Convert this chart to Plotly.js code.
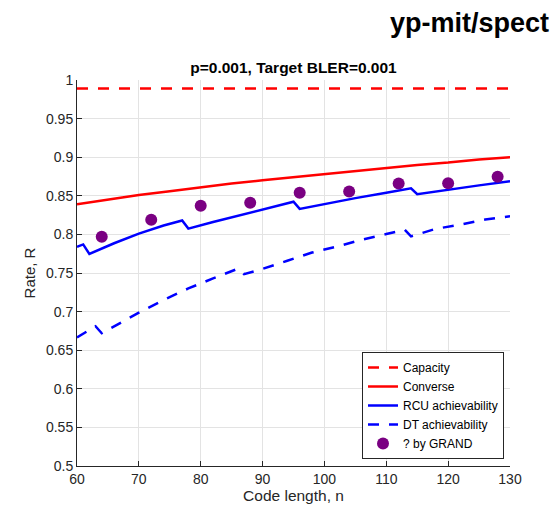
<!DOCTYPE html>
<html>
<head>
<meta charset="utf-8">
<script src="https://cdn.plot.ly/plotly-3.0.1.min.js"></script>
<style>html,body{margin:0;padding:0;background:#fff;}#chart{width:553px;height:508px;}</style>
</head>
<body>
<div id="chart"></div>
<script>
// Capacity
const capN = [60, 130];
const capR = [0.989, 0.989];
// Converse
const convN = [60, 65, 70, 75, 80, 85, 90, 95, 100, 105, 110, 115, 120, 125, 130];
const convR = [0.839, 0.845, 0.851, 0.856, 0.861, 0.866, 0.870, 0.874, 0.878, 0.882, 0.886, 0.890, 0.893, 0.897, 0.900];
// RCU achievability
const rcuN = [60, 61, 62, 66, 70, 74, 77, 78, 82, 86, 90, 95, 96, 100, 105, 110, 114, 115, 120, 125, 130];
const rcuR = [0.784, 0.787, 0.7746, 0.7885, 0.801, 0.8115, 0.818, 0.8075, 0.816, 0.824, 0.832, 0.8424, 0.833, 0.8395, 0.847, 0.854, 0.8597, 0.852, 0.858, 0.8635, 0.869];
// DT achievability
const dtN = [60, 63, 64, 66, 70, 74, 78, 82, 86, 87, 90, 94, 98, 102, 106, 110, 113, 114, 118, 122, 126, 130];
const dtR = [0.6665, 0.681, 0.672, 0.681, 0.6986, 0.715, 0.730, 0.743, 0.7555, 0.7485, 0.7553, 0.7658, 0.7765, 0.7842, 0.793, 0.8004, 0.806, 0.7975, 0.8072, 0.8127, 0.8193, 0.8235];
// GRAND
const grandN = [64, 72, 80, 88, 96, 104, 112, 120, 128];
const grandR = [0.797, 0.819, 0.837, 0.8409, 0.854, 0.8555, 0.866, 0.8664, 0.8748];

const yTicks = [0.5, 0.55, 0.6, 0.65, 0.7, 0.75, 0.8, 0.85, 0.9, 0.95, 1];
const yTickText = ['0.5', '0.55', '0.6', '0.65', '0.7', '0.75', '0.8', '0.85', '0.9', '0.95', '1'];
const xTicks = [60, 70, 80, 90, 100, 110, 120, 130];

const FONT = 'Liberation Sans, Arial, Helvetica, sans-serif';

const traces = [
  {x: capN, y: capR, mode: 'lines', name: 'Capacity', line: {color: '#ff0000', width: 2.5, dash: '11px,10px'}},
  {x: convN, y: convR, mode: 'lines', name: 'Converse', line: {color: '#ff0000', width: 2.5}},
  {x: rcuN, y: rcuR, mode: 'lines', name: 'RCU achievability', line: {color: '#0000ff', width: 2.5}},
  {x: dtN, y: dtR, mode: 'lines', name: 'DT achievability', line: {color: '#0000ff', width: 2.5, dash: '11px,10px'}},
  {x: grandN, y: grandR, mode: 'markers', name: '? by GRAND', marker: {color: '#7a0082', size: 12}}
];

const layout = {
  width: 553, height: 508,
  margin: {l: 77, r: 43, t: 80, b: 42},
  paper_bgcolor: '#ffffff', plot_bgcolor: '#ffffff',
  font: {family: FONT, color: '#262626', size: 14},
  title: {
    text: '<b>p=0.001, Target BLER=0.001</b>',
    font: {family: FONT, size: 15.5, color: '#000000'},
    x: 293.5 / 553, xref: 'container', xanchor: 'center',
    y: 1 - 68 / 508, yref: 'container', yanchor: 'middle'
  },
  xaxis: {
    range: [60, 130], tickvals: xTicks, ticktext: xTicks.map(String),
    showgrid: true, gridcolor: '#e3e3e3', gridwidth: 1,
    zeroline: false, showline: true, linecolor: '#262626', linewidth: 1,
    ticks: 'inside', ticklen: 5, tickcolor: '#262626',
    tickfont: {family: FONT, size: 14, color: '#262626'},
    title: {text: 'Code length, n', font: {family: FONT, size: 15.5, color: '#262626'}, standoff: 2}
  },
  yaxis: {
    range: [0.5, 1], tickvals: yTicks, ticktext: yTickText,
    showgrid: true, gridcolor: '#e3e3e3', gridwidth: 1,
    zeroline: false, showline: true, linecolor: '#262626', linewidth: 1,
    ticks: 'inside', ticklen: 5, tickcolor: '#262626',
    tickfont: {family: FONT, size: 14, color: '#262626'},
    title: {text: 'Rate, R', font: {family: FONT, size: 15, color: '#262626'}, standoff: 6}
  },
  showlegend: true,
  legend: {
    x: (362 - 77) / 433, y: (466 - 459) / 386, xanchor: 'left', yanchor: 'bottom',
    bgcolor: '#ffffff', bordercolor: '#262626', borderwidth: 1,
    font: {family: FONT, size: 12, color: '#000000'},
    itemwidth: 30, tracegroupgap: 0
  },
  annotations: [{
    text: '<b>yp-mit/spect</b>', xref: 'paper', yref: 'paper',
    x: (388 - 77) / 433, y: (466 - 23) / 386, xanchor: 'left', yanchor: 'middle',
    showarrow: false, font: {family: FONT, size: 27, color: '#000000'}
  }]
};

Plotly.newPlot('chart', traces, layout, {displayModeBar: false, staticPlot: true});
</script>
</body>
</html>
